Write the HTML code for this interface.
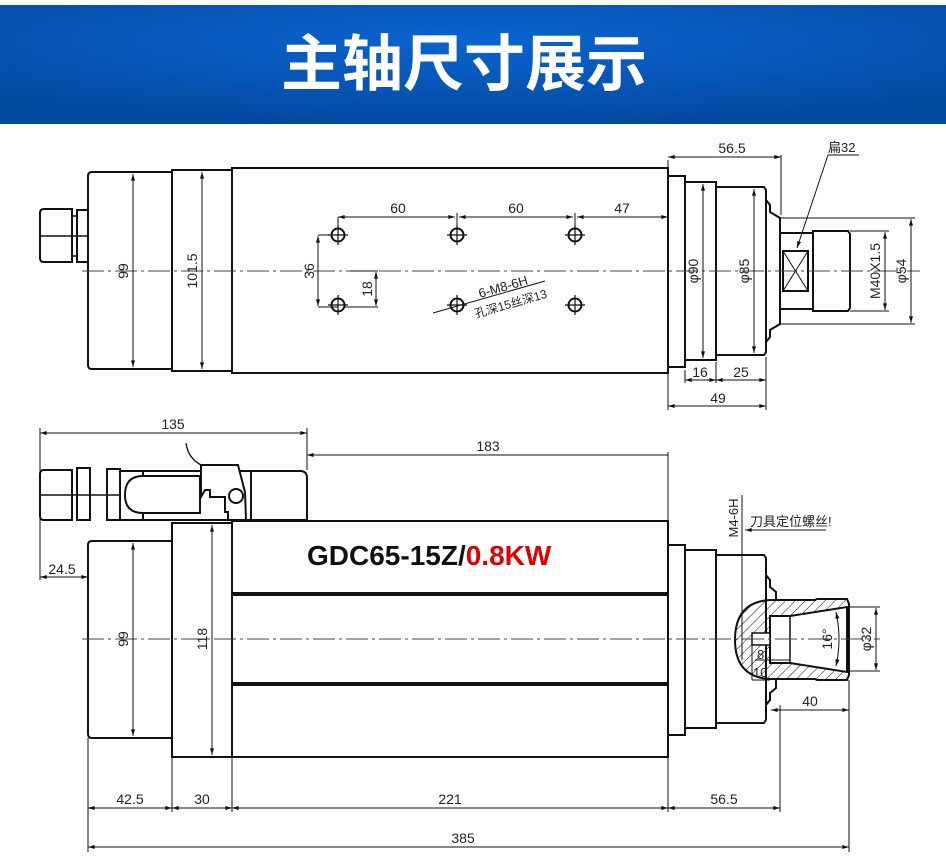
<!DOCTYPE html>
<html><head><meta charset="utf-8"><style>
html,body{margin:0;padding:0;background:#fff;width:946px;height:868px;overflow:hidden}
svg{display:block}
.t{font-family:"Liberation Sans","Noto Sans CJK SC",sans-serif;font-size:14px;fill:#222}
</style></head><body>
<svg width="946" height="868" viewBox="0 0 946 868" xmlns="http://www.w3.org/2000/svg">
<defs>
<radialGradient id="bg" cx="50%" cy="30%" r="70%"><stop offset="0" stop-color="#0a64d0"/><stop offset="1" stop-color="#0449a0"/></radialGradient>
<marker id="a" viewBox="0 0 10 6" refX="10" refY="3" markerWidth="8" markerHeight="4" orient="auto-start-reverse"><path d="M0,0L10,3L0,6z" fill="#111"/></marker>
<pattern id="h" width="7" height="7" patternUnits="userSpaceOnUse" patternTransform="rotate(45)"><line x1="0" y1="0" x2="0" y2="7" stroke="#111" stroke-width="1"/></pattern>
</defs>
<rect x="0" y="5" width="946" height="119" fill="url(#bg)"/>
<text x="464" y="85" text-anchor="middle" style="font-family:'Noto Sans CJK SC',sans-serif;font-weight:bold;font-size:61px;fill:#fff">主轴尺寸展示</text>

<g fill="none" stroke="#111" stroke-width="2">
<!-- TOP VIEW -->
<path d="M44,209H72V262H44Q40,262 40,258V213Q40,209 44,209Z"/>
<rect x="77" y="210" width="11" height="52"/>
<line x1="40" y1="236" x2="88" y2="236" stroke-width="1.5"/>
<line x1="72" y1="216" x2="77" y2="216" stroke-width="1.5"/><line x1="72" y1="256" x2="77" y2="256" stroke-width="1.5"/>
<path d="M92,172H172V369H92Q88,369 88,365V176Q88,172 92,172Z"/>
<rect x="172" y="170" width="60" height="201"/>
<rect x="232" y="168" width="436" height="205"/>
<rect x="668" y="176" width="17" height="191"/>
<rect x="685" y="182" width="31" height="178"/>
<path d="M716,187H764L766,190V352L764,355H716Z"/>
<path d="M766,200L770,205V212L780,218V324L770,330V337L766,342"/>
<rect x="780" y="233" width="33" height="76"/>
<rect x="783" y="251" width="25" height="40"/>
<path d="M783,251L808,291M808,251L783,291" stroke-width="1"/>
<path d="M813,231H848L850,234V308L848,311H813Z"/>
<!-- BOTTOM VIEW -->
<path d="M44,470H72V520H44Q40,520 40,516V474Q40,470 44,470Z"/>
<rect x="77" y="468" width="13" height="52"/><rect x="107" y="469" width="13" height="51"/>
<line x1="40" y1="495" x2="120" y2="495" stroke-width="1.5"/>
<path d="M120,471H300Q307,471 307,478V520H120Z"/>
<path d="M143,476H200V513H143Q125,513 125,495Q125,476 143,476Z"/>
<line x1="143" y1="470" x2="143" y2="476"/><line x1="143" y1="513" x2="143" y2="520"/>
<path d="M201,465H238L245,492L246,520H228V512H225V497L210,497V490H205L201,497Z" fill="#fff"/>
<circle cx="236" cy="496" r="7"/>
<path d="M186,443Q188,458 201,465" stroke-width="1.3"/>
<line x1="251" y1="471" x2="251" y2="520"/>
<path d="M92,541H172V738H92Q88,738 88,734V545Q88,541 92,541Z"/>
<rect x="172" y="523" width="60" height="234"/>
<rect x="232" y="521" width="436" height="236"/>
<line x1="232" y1="594" x2="668" y2="594" stroke-width="4"/>
<line x1="232" y1="684" x2="668" y2="684" stroke-width="4"/>
<rect x="668" y="545" width="17" height="190"/>
<rect x="685" y="550" width="31" height="178"/>
<path d="M716,555H764L766,558V720L764,723H716Z"/>
<path d="M766,575L770,580V587L776,592V600M766,705L770,700V693L776,688V678"/>
</g>
<!-- collet section -->
<path d="M735,640Q735,602 770,600H815L817,599H847L849,604V675L847,680H817L815,679H770Q735,677 735,640Z M770,616H790L847,607V672L790,663H770Z" fill="url(#h)" fill-rule="evenodd" stroke="#111" stroke-width="2"/>
<line x1="790" y1="616" x2="790" y2="663" stroke="#111" stroke-width="1.5"/>
<rect x="752" y="633" width="18" height="12" fill="#fff" stroke="#111" stroke-width="1.5"/>

<!-- centre lines -->
<g stroke="#444" stroke-width="1" stroke-dasharray="22,4,3,4" fill="none">
<line x1="82" y1="271" x2="920" y2="271"/><line x1="82" y1="639" x2="880" y2="639"/>
</g>

<!-- dimensions -->
<g stroke="#111" stroke-width="1" fill="none">
<line x1="133" y1="174" x2="133" y2="367" marker-start="url(#a)" marker-end="url(#a)"/>
<line x1="202" y1="172" x2="202" y2="369" marker-start="url(#a)" marker-end="url(#a)"/>
<line x1="338" y1="217" x2="338" y2="228"/>
<line x1="338" y1="217" x2="455" y2="217" marker-start="url(#a)" marker-end="url(#a)"/>
<line x1="459" y1="217" x2="573" y2="217" marker-start="url(#a)" marker-end="url(#a)"/>
<line x1="577" y1="217" x2="668" y2="217" marker-start="url(#a)" marker-end="url(#a)"/>
<line x1="457" y1="213" x2="457" y2="228"/><line x1="575" y1="213" x2="575" y2="228"/>
<line x1="318" y1="235" x2="338" y2="235"/><line x1="318" y1="307" x2="338" y2="307"/>
<line x1="318" y1="236" x2="318" y2="306" marker-start="url(#a)" marker-end="url(#a)"/>
<line x1="350" y1="271" x2="378" y2="271"/><line x1="345" y1="307" x2="378" y2="307"/>
<line x1="376" y1="272" x2="376" y2="306" marker-start="url(#a)" marker-end="url(#a)"/>
<line x1="433" y1="313" x2="545" y2="281"/>
<line x1="668" y1="160" x2="668" y2="410"/><line x1="781" y1="155" x2="781" y2="215"/>
<line x1="668" y1="157" x2="781" y2="157" marker-start="url(#a)" marker-end="url(#a)"/>
<line x1="685" y1="370" x2="685" y2="383"/><line x1="716" y1="362" x2="716" y2="383"/><line x1="766" y1="357" x2="766" y2="410"/>
<line x1="685" y1="380" x2="716" y2="380" marker-start="url(#a)" marker-end="url(#a)"/>
<line x1="716" y1="380" x2="766" y2="380" marker-start="url(#a)" marker-end="url(#a)"/>
<line x1="668" y1="406" x2="766" y2="406" marker-start="url(#a)" marker-end="url(#a)"/>
<line x1="703" y1="184" x2="703" y2="358" marker-start="url(#a)" marker-end="url(#a)"/>
<line x1="754" y1="189" x2="754" y2="353" marker-start="url(#a)" marker-end="url(#a)"/>
<line x1="780" y1="218" x2="915" y2="218"/><line x1="780" y1="324" x2="915" y2="324"/>
<line x1="911" y1="219" x2="911" y2="323" marker-start="url(#a)" marker-end="url(#a)"/>
<line x1="850" y1="231" x2="889" y2="231"/><line x1="850" y1="311" x2="889" y2="311"/>
<line x1="885" y1="232" x2="885" y2="310" marker-start="url(#a)" marker-end="url(#a)"/>
<line x1="828" y1="155" x2="859" y2="155"/>
<line x1="828" y1="155" x2="797" y2="248" marker-end="url(#a)"/>
<!-- bottom -->
<line x1="40" y1="428" x2="40" y2="580"/><line x1="307" y1="428" x2="307" y2="470"/>
<line x1="40" y1="433" x2="307" y2="433" marker-start="url(#a)" marker-end="url(#a)"/>
<line x1="307" y1="455" x2="668" y2="455" marker-start="url(#a)"/>
<line x1="668" y1="452" x2="668" y2="545"/>
<line x1="40" y1="577" x2="88" y2="577" marker-start="url(#a)" marker-end="url(#a)"/>
<line x1="133" y1="543" x2="133" y2="736" marker-start="url(#a)" marker-end="url(#a)"/>
<line x1="212" y1="525" x2="212" y2="755" marker-start="url(#a)" marker-end="url(#a)"/>
<line x1="88" y1="738" x2="88" y2="852"/><line x1="172" y1="757" x2="172" y2="812"/><line x1="232" y1="757" x2="232" y2="812"/>
<line x1="668" y1="735" x2="668" y2="812"/><line x1="780" y1="705" x2="780" y2="812"/><line x1="849" y1="680" x2="849" y2="852"/>
<line x1="88" y1="808" x2="172" y2="808" marker-start="url(#a)" marker-end="url(#a)"/>
<line x1="172" y1="808" x2="232" y2="808" marker-start="url(#a)" marker-end="url(#a)"/>
<line x1="232" y1="808" x2="668" y2="808" marker-start="url(#a)" marker-end="url(#a)"/>
<line x1="668" y1="808" x2="780" y2="808" marker-start="url(#a)" marker-end="url(#a)"/>
<line x1="88" y1="847" x2="849" y2="847" marker-start="url(#a)" marker-end="url(#a)"/>
<line x1="771" y1="710" x2="849" y2="710" marker-start="url(#a)" marker-end="url(#a)"/>
<line x1="742" y1="495" x2="742" y2="660"/>
<line x1="745" y1="530" x2="826" y2="530" marker-start="url(#a)"/>
<line x1="849" y1="607" x2="880" y2="607"/><line x1="849" y1="671" x2="880" y2="671"/>
<line x1="876" y1="608" x2="876" y2="670" marker-start="url(#a)" marker-end="url(#a)"/>
<path d="M836,612Q842,639 836,666" marker-start="url(#a)" marker-end="url(#a)"/>
<line x1="752" y1="645" x2="752" y2="680"/><line x1="770" y1="680" x2="752" y2="680"/>
<line x1="755" y1="660" x2="790" y2="660"/>
</g>
<circle cx="338" cy="235" r="6.5" fill="none" stroke="#111" stroke-width="2"/>
<circle cx="457" cy="235" r="6.5" fill="none" stroke="#111" stroke-width="2"/>
<circle cx="575" cy="235" r="6.5" fill="none" stroke="#111" stroke-width="2"/>
<circle cx="338" cy="305" r="6.5" fill="none" stroke="#111" stroke-width="2"/>
<circle cx="457" cy="305" r="6.5" fill="none" stroke="#111" stroke-width="2"/>
<circle cx="575" cy="305" r="6.5" fill="none" stroke="#111" stroke-width="2"/>
<g stroke="#111" stroke-width="1.2">
<path d="M328,235h20M338,225v20M447,235h20M457,225v20M565,235h20M575,225v20M328,305h20M338,295v20M447,305h20M457,295v20M565,305h20M575,295v20"/>
</g>

<g class="t">
<text x="398" y="213" text-anchor="middle">60</text>
<text x="516" y="213" text-anchor="middle">60</text>
<text x="622" y="213" text-anchor="middle">47</text>
<text transform="translate(128,271) rotate(-90)" text-anchor="middle">99</text>
<text transform="translate(197,271) rotate(-90)" text-anchor="middle">101.5</text>
<text transform="translate(314,271) rotate(-90)" text-anchor="middle">36</text>
<text transform="translate(372,289) rotate(-90)" text-anchor="middle">18</text>
<text transform="translate(480,298) rotate(-16)" font-size="13">6-M8-6H</text>
<text transform="translate(476,318) rotate(-16)" font-size="12">孔深15丝深13</text>
<text x="732" y="153" text-anchor="middle">56.5</text>
<text x="828" y="152" font-size="13">扁32</text>
<text transform="translate(698,271) rotate(-90)" text-anchor="middle">φ90</text>
<text transform="translate(749,271) rotate(-90)" text-anchor="middle">φ85</text>
<text transform="translate(880,271) rotate(-90)" text-anchor="middle">M40X1.5</text>
<text transform="translate(906,271) rotate(-90)" text-anchor="middle">φ54</text>
<text x="700" y="377" text-anchor="middle">16</text>
<text x="741" y="377" text-anchor="middle">25</text>
<text x="718" y="403" text-anchor="middle">49</text>
<text x="173" y="429" text-anchor="middle">135</text>
<text x="488" y="451" text-anchor="middle">183</text>
<text x="62" y="574" text-anchor="middle">24.5</text>
<text transform="translate(128,639) rotate(-90)" text-anchor="middle">99</text>
<text transform="translate(207,639) rotate(-90)" text-anchor="middle">118</text>
<text x="130" y="804" text-anchor="middle">42.5</text>
<text x="202" y="804" text-anchor="middle">30</text>
<text x="450" y="804" text-anchor="middle">221</text>
<text x="724" y="804" text-anchor="middle">56.5</text>
<text x="463" y="843" text-anchor="middle">385</text>
<text x="810" y="706" text-anchor="middle">40</text>
<text transform="translate(738,518) rotate(-90)" text-anchor="middle" font-size="13">M4-6H</text>
<text x="750" y="526" font-size="13">刀具定位螺丝!</text>
<text transform="translate(871,639) rotate(-90)" text-anchor="middle">φ32</text>
<text transform="translate(832,639) rotate(-90)" text-anchor="middle">16°</text>
<text x="757" y="659" font-size="13">8</text>
<text x="753" y="677" font-size="13">10</text>
</g>
<text x="307" y="565" style="font-family:'Liberation Sans',sans-serif;font-weight:bold;font-size:28px;fill:#111">GDC65-15Z/<tspan fill="#e00000">0.8KW</tspan></text>
</svg>
</body></html>
